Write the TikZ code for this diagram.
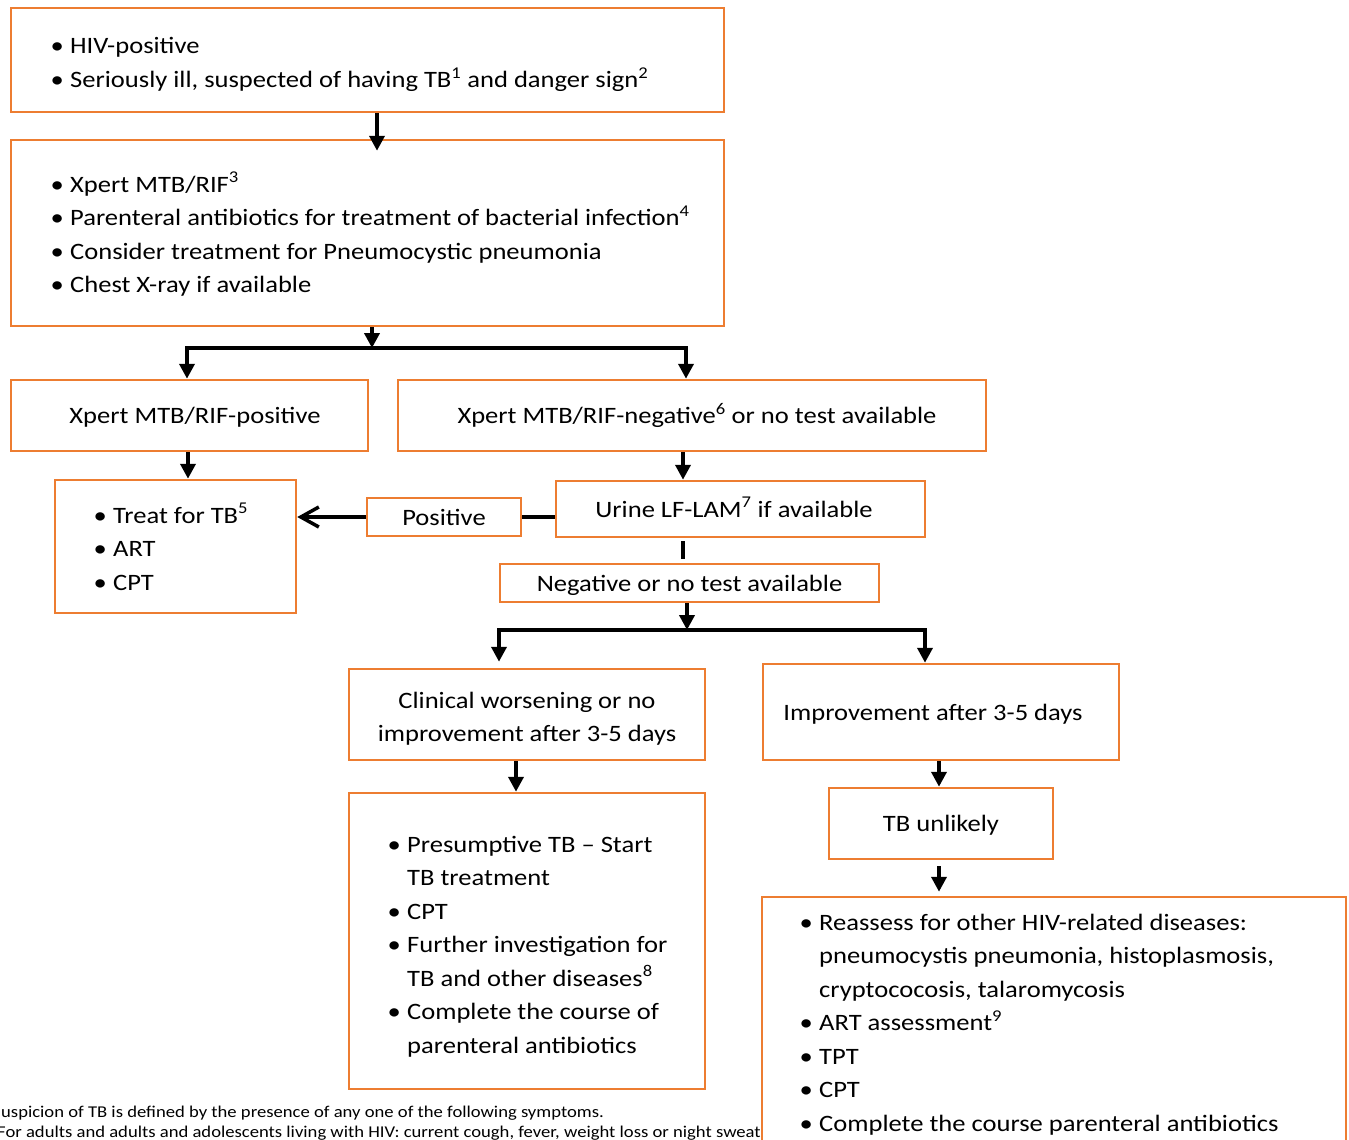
\documentclass[tikz,border=0pt]{standalone}
\usepackage{fontspec}
\setmainfont{Carlito}[FakeStretch=1.13]
\usetikzlibrary{arrows.meta,calc}
\definecolor{boxorange}{HTML}{ED7D31}
\tikzset{
  box/.style={draw=boxorange, line width=2.5pt, fill=white, inner sep=0pt,
    font=\fontsize{23.5}{33.5}\selectfont, align=center},
  oneline/.style={text height=20pt, text depth=4pt},
  txt/.style={inner sep=0pt, font=\fontsize{23.5}{33.5}\selectfont, align=center},
  list/.style={inner sep=0pt, anchor=base west, font=\fontsize{23.5}{33.5}\selectfont},
  note/.style={inner sep=0pt, anchor=base west, font=\fontsize{16.5}{21}\selectfont},
  arr/.style={line width=4pt, -{Triangle[length=15pt,width=15pt]}},
  link/.style={line width=4pt},
  openarr/.style={line width=3.5pt, -{Straight Barb[length=18pt,width=20pt]}},
}
\newcommand\bul{\makebox[26pt]{\textbullet}}
\begin{document}
\begin{tikzpicture}[x=1pt,y=-1pt]
\path[use as bounding box, clip] (0,0) rectangle (1349,1140);
\fill[white] (0,0) rectangle (1349,1140);

% footnotes at the foot of the page
\node[note] (fn1) at (1,1117) {uspicion of TB is defined by the presence of any one of the following symptoms.};
\node[note] (fn2) at (-3,1137) {For adults and adults and adolescents living with HIV: current cough, fever, weight loss or night sweats};

% boxes
\node[box, minimum width=713, minimum height=104] (b1) at (367.5,60) {};
\node[box, minimum width=713, minimum height=186] (b2) at (367.5,233) {};
\node[box, oneline, minimum width=357, minimum height=71] (pos) at (189.5,415.5) {\hspace*{11pt}Xpert MTB/RIF-positive};
\node[box, oneline, minimum width=588, minimum height=71] (neg) at (692,415.5) {\hspace*{10pt}Xpert MTB/RIF-negative\textsuperscript{6} or no test available};
\node[box, minimum width=241, minimum height=133] (treat) at (175.5,546.5) {};
\node[box, oneline, minimum width=369, minimum height=56] (urine) at (740.5,509) {Urine LF-LAM\textsuperscript{7} if available\hspace*{13pt}};
\node[box, oneline, minimum width=154, minimum height=38] (poslab) at (444,517) {Positive};
\node[box, oneline, minimum width=379, minimum height=38] (neglab) at (689.5,583) {Negative or no test available};
\node[box, minimum width=356, minimum height=91] (clin) at (527,714.5) {};
\node[txt] (clintxt) at (527,718.5) {Clinical worsening or no\\improvement after 3-5 days};
\node[box, oneline, minimum width=356, minimum height=96] (impr) at (941,712) {\hspace*{-16pt}Improvement after 3-5 days};
\node[box, minimum width=356, minimum height=296] (pres) at (527,941) {};
\node[box, oneline, minimum width=224, minimum height=71] (unl) at (941,823.5) {TB unlikely};
\node[box, minimum width=584, minimum height=290] (last) at (1054,1042) {};

% bullet lists
\node[list] (t1) at (44,53) {\begin{tabular}[t]{@{}l@{}l@{}}
  \bul & HIV-positive\\[1.5pt]
  \bul & Seriously ill, suspected of having TB\textsuperscript{1} and danger sign\textsuperscript{2}
\end{tabular}};
\node[list] (t2) at (44,192) {\begin{tabular}[t]{@{}l@{}l@{}}
  \bul & Xpert MTB/RIF\textsuperscript{3}\\
  \bul & Parenteral antibiotics for treatment of bacterial infection\textsuperscript{4}\\
  \bul & Consider treatment for Pneumocystic pneumonia\\
  \bul & Chest X-ray if available
\end{tabular}};
\node[list] (t3) at (87,523) {\begin{tabular}[t]{@{}l@{}l@{}}
  \bul & Treat for TB\textsuperscript{5}\\
  \bul & ART\\
  \bul & CPT
\end{tabular}};
\node[list] (t4) at (381,852) {\begin{tabular}[t]{@{}l@{}l@{}}
  \bul & Presumptive TB -- Start\\
       & TB treatment\\
  \bul & CPT\\
  \bul & Further investigation for\\
       & TB and other diseases\textsuperscript{8}\\
  \bul & Complete the course of\\
       & parenteral antibiotics
\end{tabular}};
\node[list] (t5) at (793,930) {\begin{tabular}[t]{@{}l@{}l@{}}
  \bul & Reassess for other HIV-related diseases:\\
       & pneumocystis pneumonia, histoplasmosis,\\
       & cryptococosis, talaromycosis\\
  \bul & ART assessment\textsuperscript{9}\\
  \bul & TPT\\
  \bul & CPT\\
  \bul & Complete the course parenteral antibiotics
\end{tabular}};

% connectors
\draw[arr] ([xshift=9.5pt]b1.south) -- ([xshift=9.5pt,yshift=-12pt]b2.north);
\coordinate (split1) at (372,348);
\draw[arr] (b2.south -| split1) -- (split1);
\draw[arr] (split1) -| ([xshift=-2.5pt]pos.north);
\draw[arr] (split1) -| ([xshift=-6pt]neg.north);
\draw[arr] ([xshift=-1.5pt]pos.south) -- ([xshift=-1.5pt]pos.south |- treat.north);
\draw[arr] ([xshift=-9pt]neg.south) -- ([xshift=-9pt]neg.south |- urine.north);
\draw[link] (poslab.east) -- (poslab.east -| urine.west);
\draw[openarr] (poslab.west) -- (poslab.west -| treat.east);
\draw[link, shorten <=3pt, shorten >=4pt] ([xshift=-57.5pt]urine.south) -- ([xshift=-57.5pt]urine.south |- neglab.north);
\coordinate (split2) at (687,630);
\draw[arr] (neglab.south -| split2) -- (split2);
\draw[arr, shorten >=6pt] (split2) -| ([xshift=-28pt]clin.north);
\draw[arr] (split2) -| ([xshift=-16pt]impr.north);
\draw[arr] ([xshift=-11pt]clin.south) -- ([xshift=-11pt]clin.south |- pres.north);
\draw[arr] ([xshift=-2pt]impr.south) -- ([xshift=-2pt]impr.south |- unl.north);
\draw[arr, shorten <=6pt, shorten >=4pt] ([xshift=-2pt]unl.south) -- ([xshift=-2pt]unl.south |- last.north);
\end{tikzpicture}
\end{document}
